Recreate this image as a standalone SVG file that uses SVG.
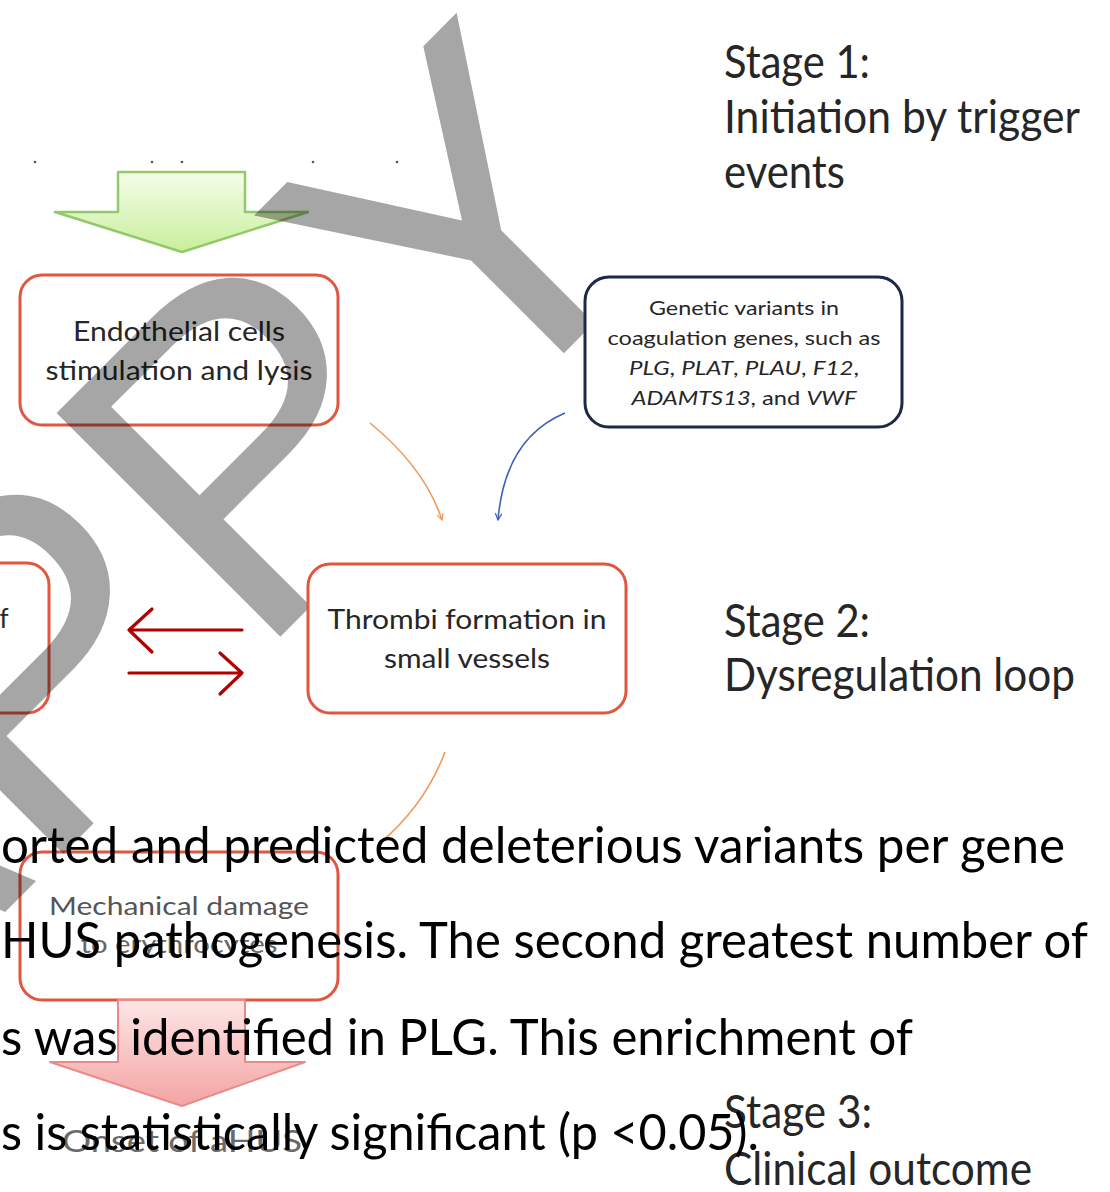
<svg xmlns="http://www.w3.org/2000/svg" width="1110" height="1192" viewBox="0 0 1110 1192">
<defs>
<linearGradient id="gGreen" x1="0" y1="0" x2="0" y2="1"><stop offset="0" stop-color="#f4fde9"/><stop offset="1" stop-color="#c9ef9c"/></linearGradient>
<linearGradient id="gPink" x1="0" y1="0" x2="0" y2="1"><stop offset="0" stop-color="#fde6e6"/><stop offset="1" stop-color="#f4a3a3"/></linearGradient>
<marker id="mOr" viewBox="0 0 10 10" refX="9" refY="5" markerWidth="8" markerHeight="8" orient="auto" markerUnits="userSpaceOnUse"><path d="M1,1 L9,5 L1,9" fill="none" stroke="#ef9a5a" stroke-width="1.6"/></marker>
<marker id="mBl" viewBox="0 0 10 10" refX="9" refY="5" markerWidth="8" markerHeight="8" orient="auto" markerUnits="userSpaceOnUse"><path d="M1,1 L9,5 L1,9" fill="none" stroke="#3f63b8" stroke-width="1.6"/></marker>
<style>
.box{fill:#fff;stroke:#e0573f;stroke-width:3}
.nbox{fill:#fff;stroke:#1c2a48;stroke-width:3}
.t{font-family:Lato,"Open Sans","Liberation Sans",sans-serif;fill:#262626;text-anchor:middle}
.st{font-family:Lato,"Open Sans","Liberation Sans",sans-serif;fill:#262626;font-size:46px}
.big{font-family:Lato,"Open Sans","Liberation Sans",sans-serif;fill:#000;font-size:50px}
.wm{font-family:"Liberation Sans",Arial,sans-serif;font-size:460px;fill:#000;fill-opacity:0.35}
.dot{fill:#555}
</style>
</defs>
<rect width="1110" height="1192" fill="#fff"/>

<g id="dots">
<circle class="dot" cx="35" cy="162" r="1.3"/><circle class="dot" cx="152" cy="162" r="1.3"/><circle class="dot" cx="182" cy="162" r="1.3"/><circle class="dot" cx="313" cy="162" r="1.3"/><circle class="dot" cx="397" cy="162" r="1.3"/>
</g>

<g id="green-arrow"><path d="M118,172 H245 V212 H308 L182,252 L55,212 H118 Z" fill="url(#gGreen)" stroke="#93c96a" stroke-width="2.5" stroke-linejoin="round"/></g>

<g id="endothelial">
<rect class="box" x="20" y="275" width="318" height="150" rx="22"/>
<text class="t" x="179" y="341" font-size="26" textLength="212" lengthAdjust="spacingAndGlyphs">Endothelial cells</text>
<text class="t" x="179" y="380" font-size="26" textLength="267" lengthAdjust="spacingAndGlyphs">stimulation and lysis</text>
</g>

<g id="left-box">
<rect class="box" x="-270" y="563" width="319" height="150" rx="22"/>
<text class="t" x="4" y="628" font-size="26">f</text>
</g>

<g id="mechanical">
<rect class="box" x="20" y="852" width="318" height="148" rx="22"/>
<text class="t" x="179" y="915" font-size="25" style="fill:#555" textLength="260" lengthAdjust="spacingAndGlyphs">Mechanical damage</text>
<text class="t" x="179" y="953" font-size="25" style="fill:#666" textLength="197" lengthAdjust="spacingAndGlyphs">to erythrocytes</text>
</g>

<g id="pink-arrow">
<path d="M118,1000 H245 V1062 H305 L182,1106 L50,1062 H118 Z" fill="url(#gPink)" stroke="#e88a8a" stroke-width="2" stroke-linejoin="round"/>
<text class="t" x="182" y="1152" font-size="30" style="fill:#6a6a6a" textLength="240" lengthAdjust="spacingAndGlyphs">Onset of aHUS</text>
</g>

<g id="watermark">
<text class="wm" x="76" transform="translate(-234,1151) rotate(-45)">APPY</text>
</g>

<g id="genetic">
<rect class="nbox" x="585" y="277" width="317" height="150" rx="24"/>
<text class="t" x="744" y="315" font-size="20" textLength="190" lengthAdjust="spacingAndGlyphs">Genetic variants in</text>
<text class="t" x="744" y="345" font-size="20" textLength="273" lengthAdjust="spacingAndGlyphs">coagulation genes, such as</text>
<text class="t" x="744" y="375" font-size="20" textLength="230" lengthAdjust="spacingAndGlyphs"><tspan font-style="italic">PLG</tspan>, <tspan font-style="italic">PLAT</tspan>, <tspan font-style="italic">PLAU</tspan>, <tspan font-style="italic">F12</tspan>,</text>
<text class="t" x="744" y="405" font-size="20" textLength="225" lengthAdjust="spacingAndGlyphs"><tspan font-style="italic">ADAMTS13</tspan>, and <tspan font-style="italic">VWF</tspan></text>
</g>

<g id="thrombi">
<rect class="box" x="308" y="564" width="318" height="149" rx="22"/>
<text class="t" x="467" y="629" font-size="26" textLength="279" lengthAdjust="spacingAndGlyphs">Thrombi formation in</text>
<text class="t" x="467" y="668" font-size="26" textLength="166" lengthAdjust="spacingAndGlyphs">small vessels</text>
</g>

<g id="connectors" fill="none">
<path d="M370,423 Q425,468 442,520" stroke="#ef9a5a" stroke-width="1.6" marker-end="url(#mOr)"/>
<path d="M565,413 Q505,438 498,520" stroke="#3f63b8" stroke-width="1.6" marker-end="url(#mBl)"/>
<path d="M445,752 Q425,805 380,843" stroke="#ef9a5a" stroke-width="1.6"/>
<g stroke="#b00000" stroke-width="3.2" stroke-linecap="round" stroke-linejoin="round">
<path d="M242,630 H129 M152,609 L129,630 L152,652"/>
<path d="M129,673 H242 M220,653 L242,673 L220,694"/>
</g>
</g>

<g id="stage-labels">
<text class="st" x="724" y="78" textLength="146" lengthAdjust="spacingAndGlyphs">Stage 1:</text>
<text class="st" x="724" y="133" textLength="356" lengthAdjust="spacingAndGlyphs">Initiation by trigger</text>
<text class="st" x="724" y="188" textLength="121" lengthAdjust="spacingAndGlyphs">events</text>
<text class="st" x="724" y="637" textLength="146" lengthAdjust="spacingAndGlyphs">Stage 2:</text>
<text class="st" x="724" y="691" textLength="351" lengthAdjust="spacingAndGlyphs">Dysregulation loop</text>
<text class="st" x="724" y="1128" textLength="148" lengthAdjust="spacingAndGlyphs">Stage 3:</text>
<text class="st" x="724" y="1185" textLength="308" lengthAdjust="spacingAndGlyphs">Clinical outcome</text>
</g>

<g id="overlay-text">
<text class="big" x="1" y="863" textLength="1064" lengthAdjust="spacingAndGlyphs">orted and predicted deleterious variants per gene</text>
<text class="big" x="1" y="958" textLength="1087" lengthAdjust="spacingAndGlyphs">HUS pathogenesis. The second greatest number of</text>
<text class="big" x="1" y="1055" textLength="912" lengthAdjust="spacingAndGlyphs">s was identified in PLG. This enrichment of</text>
<text class="big" x="1" y="1150" textLength="758" lengthAdjust="spacingAndGlyphs">s is statistically significant (p &lt;0.05).</text>
</g>
</svg>
